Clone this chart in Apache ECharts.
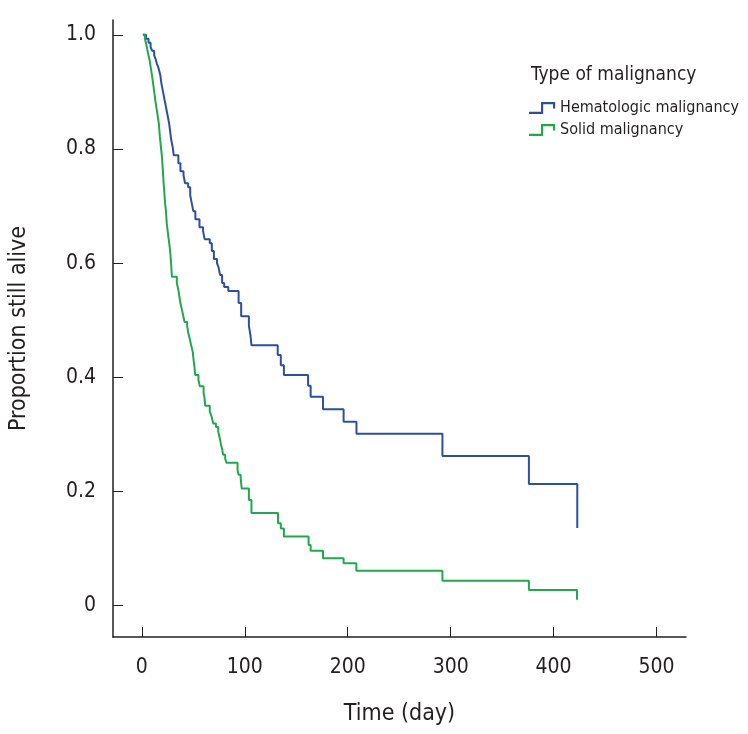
<!DOCTYPE html>
<html>
<head>
    <meta charset="utf-8">
    <title>Survival by type of malignancy</title>
    <style>
        html, body {
            margin: 0;
            padding: 0;
            background: #ffffff;
        }

        #chart {
            width: 748px;
            height: 734px;
        }
    </style>
</head>
<body>
    <div id="chart"></div>
</body>
<script type="text/javascript" src="https://cdn.jsdelivr.net/npm/echarts@6/dist/echarts.min.js"></script>
<script type="text/javascript">
    // 数据：生存曲线（时间/生存比例）
    var seriesNames = ['Hematologic malignancy', 'Solid malignancy'];
    var xTicks = [0, 100, 200, 300, 400, 500];
    var yTicks = [0, 0.2, 0.4, 0.6, 0.8, 1.0];

    var hemaDays = [1, 4, 6.5, 8.5, 10, 12, 13.5, 14.5, 16, 17, 18, 19, 20.5, 22, 23.5, 25, 26.5, 27.5, 28.5, 30, 31,
        35.5, 37.5, 40.5, 42, 45, 47, 48.5, 50, 52, 56, 59.5, 61, 66, 68, 70, 73, 74.5, 76, 78, 80, 84,
        94, 96.5, 104, 105.5, 106.5, 132, 135, 138, 161.5, 164, 176, 196, 208.5, 292, 376, 423];
    var hemaSurv = [1.0, 0.993, 0.986, 0.979, 0.972, 0.964, 0.957, 0.950, 0.943, 0.936, 0.929, 0.915, 0.901, 0.887, 0.873, 0.859, 0.845, 0.831, 0.817, 0.803, 0.789,
        0.775, 0.761, 0.754, 0.740, 0.733, 0.719, 0.705, 0.691, 0.677, 0.663, 0.656, 0.642, 0.635, 0.621, 0.607, 0.600, 0.593, 0.579, 0.565, 0.558, 0.551,
        0.530, 0.507, 0.490, 0.474, 0.456, 0.439, 0.421, 0.404, 0.385, 0.366, 0.344, 0.322, 0.301, 0.262, 0.213, 0.136];

    var solidDays = [1, 3, 4.5, 6, 7.5, 9, 10.5, 12, 13.5, 15, 16.5, 17.5, 18.5, 19.5, 20.3, 21, 21.8, 22.6, 23.5, 24.2, 25, 25.8, 26.6, 27.4, 28, 28.6, 29.2,
        34, 35.5, 36.5, 37.5, 39, 40.4, 41.5, 44, 45.2, 46.5, 47.8, 49.5, 50.3, 51.2, 51.8, 55, 56.4, 60, 61, 61.5, 66, 67.8, 69.4, 72, 74.2, 75.5, 76.7, 78, 79, 81, 82.3,
        93, 94, 96, 97, 104, 106.5, 132.3, 135, 138, 162, 164, 176, 196, 208.4, 292, 376, 422.7];
    var solidSurv = [1.0, 0.993, 0.982, 0.968, 0.956, 0.939, 0.921, 0.901, 0.880, 0.863, 0.845, 0.822, 0.804, 0.787, 0.766, 0.745, 0.725, 0.705, 0.690, 0.670, 0.658, 0.646, 0.635, 0.623, 0.610, 0.595, 0.576,
        0.565, 0.553, 0.541, 0.530, 0.518, 0.506, 0.497, 0.490, 0.477, 0.468, 0.457, 0.444, 0.430, 0.417, 0.404, 0.395, 0.384, 0.372, 0.363, 0.350, 0.340, 0.331, 0.319, 0.313, 0.305, 0.295, 0.284, 0.274, 0.264, 0.257, 0.250,
        0.237, 0.229, 0.223, 0.205, 0.185, 0.162, 0.144, 0.135, 0.121, 0.106, 0.096, 0.083, 0.074, 0.061, 0.0435, 0.027, 0.010];

    var lineColors = ['#2c4fa3', '#22a84c'];

    function zip(xs, ys) {
        var out = [];
        for (var i = 0; i < xs.length; i++) {
            out.push([xs[i], ys[i]]);
        }
        return out;
    }

    var FONT = "'Liberation Sans Narrow', 'DejaVu Sans Condensed', 'Roboto', sans-serif";
    // 阶梯形图例图标
    var stepIcon = 'path://M0,9 L11,9 L11,0 L24,0 L24,6 L22,6 L22,2 L13,2 L13,11 L0,11 Z';

    var myChart = echarts.init(document.getElementById('chart'));
    var option = {
        animation: false,
        color: lineColors,
        title: {
            text: 'Type of malignancy',
            left: 526,
            top: 61,
            textStyle: {
                fontFamily: FONT,
                fontSize: 19,
                fontWeight: 'normal',
                color: '#231f20'
            }
        },
        legend: {
            orient: 'vertical',
            left: 524,
            top: 95,
            itemWidth: 30,
            itemHeight: 12,
            itemGap: 6,
            icon: stepIcon,
            textStyle: {
                fontFamily: FONT,
                fontSize: 16,
                color: '#231f20',
                padding: [0, 0, 0, -2]
            },
            data: seriesNames
        },
        grid: {
            left: 111,
            right: 62,
            top: 20,
            bottom: 97
        },
        xAxis: {
            type: 'value',
            min: -28,
            max: 528.6,
            name: 'Time (day)',
            nameLocation: 'middle',
            nameGap: 66,
            nameTextStyle: {
                fontFamily: FONT,
                fontSize: 23,
                color: '#231f20'
            },
            axisLine: {
                onZero: false,
                lineStyle: { color: '#231f20', width: 1.5 }
            },
            axisTick: {
                inside: true,
                length: 10,
                customValues: xTicks,
                lineStyle: { color: '#231f20', width: 1 }
            },
            axisLabel: {
                customValues: xTicks,
                margin: 20,
                fontFamily: FONT,
                fontSize: 21,
                color: '#231f20'
            },
            splitLine: { show: false }
        },
        yAxis: {
            type: 'value',
            min: -0.0552,
            max: 1.026,
            name: 'Proportion still alive',
            nameLocation: 'middle',
            nameRotate: 90,
            nameGap: 82,
            nameTextStyle: {
                fontFamily: FONT,
                fontSize: 23,
                color: '#231f20'
            },
            axisLine: {
                show: true,
                onZero: false,
                lineStyle: { color: '#231f20', width: 1.5 }
            },
            axisTick: {
                show: true,
                inside: true,
                length: 10,
                customValues: yTicks,
                lineStyle: { color: '#231f20', width: 1 }
            },
            axisLabel: {
                customValues: yTicks,
                margin: 17,
                fontFamily: FONT,
                fontSize: 21,
                color: '#231f20',
                formatter: function(v) {
                    return v === 0 ? '0' : v.toFixed(1);
                }
            },
            splitLine: { show: false }
        },
        series: [{
            name: seriesNames[0],
            type: 'line',
            step: 'end',
            showSymbol: false,
            lineStyle: { width: 2, color: lineColors[0] },
            data: zip(hemaDays, hemaSurv)
        }, {
            name: seriesNames[1],
            type: 'line',
            step: 'end',
            showSymbol: false,
            lineStyle: { width: 2, color: lineColors[1] },
            data: zip(solidDays, solidSurv)
        }]
    };
    myChart.setOption(option);
</script>
</html>
